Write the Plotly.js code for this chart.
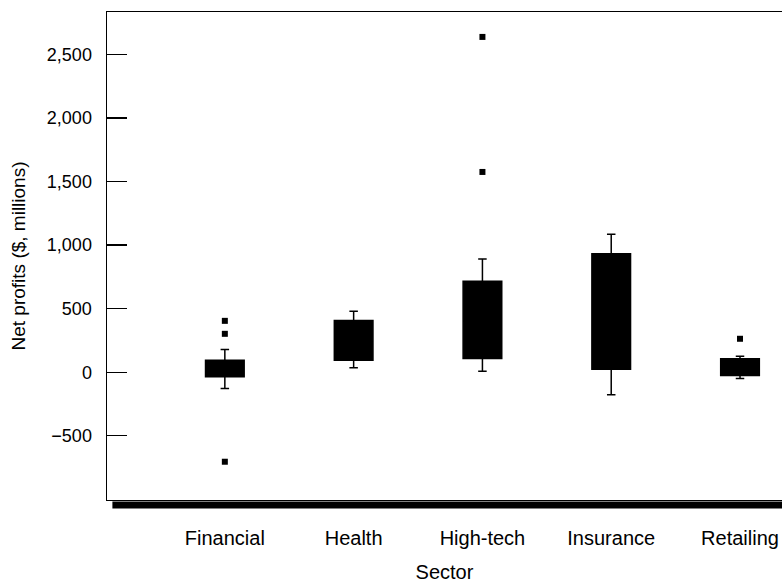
<!DOCTYPE html>
<html>
<head>
<meta charset="utf-8">
<script src="https://cdn.plot.ly/plotly-3.0.1.min.js"></script>
<style>html,body{margin:0;padding:0;background:#fff;}#chart{width:782px;height:583px;}</style>
</head>
<body>
<div id="chart"></div>
<script>
// Data
const sectors = ['Financial', 'Health', 'High-tech', 'Insurance', 'Retailing'];
const q1 = [-36, 94, 108, 24, -26];
const medians = [20, 240, 400, 500, 40];
const q3 = [94, 406, 716, 931, 105];
const lowerWhisker = [-128, 35, 8, -178, -50];
const upperWhisker = [178, 480, 891, 1085, 126];

const outlierSector = ['Financial', 'Financial', 'Financial', 'High-tech', 'High-tech', 'Retailing'];
const outlierValue = [404, 302, -704, 2637, 1575, 263];

const yTicks = [-500, 0, 500, 1000, 1500, 2000, 2500];

const fontFamily = 'Liberation Sans, Arial, Helvetica, sans-serif';

const boxes = {
  type: 'box',
  x: sectors,
  q1: q1,
  median: medians,
  q3: q3,
  lowerfence: lowerWhisker,
  upperfence: upperWhisker,
  width: 0.3,
  whiskerwidth: 0.22,
  fillcolor: '#000',
  line: {color: '#000', width: 1.5},
  boxpoints: false,
  hoverinfo: 'skip',
  showlegend: false
};

const outliers = {
  type: 'scatter',
  mode: 'markers',
  x: outlierSector,
  y: outlierValue,
  marker: {symbol: 'square', size: 6, color: '#000'},
  showlegend: false
};

const layout = {
  width: 782,
  height: 583,
  margin: {l: 107, r: 0, t: 12, b: 83},
  paper_bgcolor: '#fff',
  plot_bgcolor: '#fff',
  font: {family: fontFamily, size: 19, color: '#000'},
  showlegend: false,
  xaxis: {
    type: 'category',
    categoryorder: 'array',
    categoryarray: sectors,
    range: [-0.915, 4.326],
    showline: true,
    linecolor: '#000',
    linewidth: 1,
    mirror: true,
    ticks: '',
    showgrid: false,
    zeroline: false,
    ticklabelstandoff: 20,
    tickfont: {family: fontFamily, size: 20, color: '#000'},
    title: {text: 'Sector', font: {family: fontFamily, size: 20, color: '#000'}, standoff: 18}
  },
  yaxis: {
    range: [-1005, 2833],
    tickvals: yTicks,
    tickformat: ',',
    ticks: 'inside',
    ticklen: 20,
    tickwidth: 1.2,
    tickcolor: '#000',
    showline: true,
    linecolor: '#000',
    linewidth: 1.5,
    showgrid: false,
    zeroline: false,
    ticklabelstandoff: 10,
    tickfont: {family: fontFamily, size: 18, color: '#000'},
    title: {text: 'Net profits ($, millions)', font: {family: fontFamily, size: 19, color: '#000'}, standoff: 16}
  },
  shapes: [
    {type: 'rect', xref: 'paper', yref: 'paper', x0: 0.008, x1: 1, y0: -0.0175, y1: -0.003,
     fillcolor: '#000', line: {width: 0}}
  ]
};

Plotly.newPlot('chart', [boxes, outliers], layout, {displayModeBar: false, staticPlot: true});
</script>
</body>
</html>
